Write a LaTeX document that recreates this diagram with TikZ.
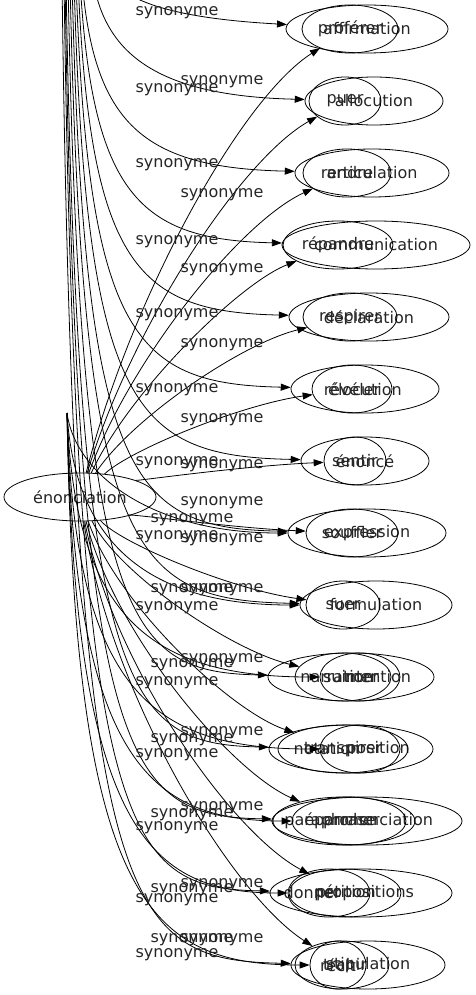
\documentclass[tikz,border=0pt]{standalone}
\usepackage{fontspec}
\setmainfont{DejaVu Sans}
\usetikzlibrary{shapes.geometric,arrows.meta}
\tikzset{
  ell/.style={draw, ellipse, inner sep=0pt, line width=0.8pt, minimum height=48pt},
  lab/.style={font=\fontsize{16}{19}\selectfont, text=black!85, inner sep=0pt},
  syn/.style={font=\fontsize{16}{19}\selectfont, text=black!85, inner sep=0pt},
  edge/.style={draw, line width=0.8pt, -{Triangle[length=10pt,width=7pt]}},
}
\begin{document}
\begin{tikzpicture}[x=1pt,y=-1pt]
\useasboundingbox (0,0) rectangle (476,995);
\clip (0,0) rectangle (476,995);
\fill[white] (0,0) rectangle (476,995);

% hub
\node[ell, minimum width=152pt, label={[lab]center:énonciation}] (en) at (80,497) {};
\coordinate (hc) at (67,413);

% row 1
\node[ell, minimum width=162pt, label={[lab]center:affirmation}] (b1) at (367,29) {};
\node[ell, minimum width=96pt, label={[lab]center:proférer}] (s1) at (350,29) {};
% row 2
\node[ell, minimum width=138pt, label={[lab]center:allocution}] (b2) at (374,101) {};
\node[ell, minimum width=72pt, label={[lab]center:puer}] (s2) at (345,101) {};
% row 3
\node[ell, minimum width=154pt, label={[lab]center:articulation}] (b3) at (372,173) {};
\node[ell, minimum width=88pt, label={[lab]center:rendre}] (s3) at (347,173) {};
% row 4
\node[ell, minimum width=188pt, label={[lab]center:communication}] (b4) at (376,245) {};
\node[ell, minimum width=110pt, label={[lab]center:répandre}] (s4) at (338,245) {};
% row 5
\node[ell, minimum width=160pt, label={[lab]center:déclaration}] (b5) at (369,317) {};
\node[ell, minimum width=94pt, label={[lab]center:respirer}] (s5) at (350,317) {};
% row 6
\node[ell, minimum width=148pt, label={[lab]center:élocution}] (b6) at (365,389) {};
\node[ell, minimum width=80pt, label={[lab]center:révéler}] (s6) at (352,389) {};
% row 7
\node[ell, minimum width=128pt, label={[lab]center:énoncé}] (b7) at (365,461) {};
\node[ell, minimum width=62pt, label={[lab]center:sentir}] (s7) at (355,461) {};
% row 8
\node[ell, minimum width=158pt, label={[lab]center:expression}] (b8) at (367,533) {};
\node[ell, minimum width=92pt, label={[lab]center:souffler}] (s8) at (352,533) {};
% row 9
\node[ell, minimum width=152pt, label={[lab]center:formulation}] (b9) at (376,605) {};
\node[ell, minimum width=74pt, label={[lab]center:suer}] (s9) at (343,605) {};
% row 10
\node[ell, minimum width=166pt, label={[lab,xshift=-14pt]center:narration}] (b10) at (351,677) {};
\node[ell, minimum width=96pt, label={[lab,xshift=8pt]center:suinter}] (m10) at (343,677) {};
\node[ell, minimum width=80pt, label={[lab,xshift=18pt]center:mention}] (s10) at (360,677) {};
% row 11
\node[ell, minimum width=164pt, label={[lab,xshift=27pt]center:position}] (b11) at (351,749) {};
\node[ell, minimum width=130pt, label={[lab]center:transpirer}] (m11) at (343,749) {};
\node[ell, minimum width=80pt, label={[lab,xshift=-33pt]center:notation}] (s11) at (360,749) {};
% row 12
\node[ell, minimum width=190pt, label={[lab,xshift=11pt]center:prononciation}] (b12) at (367,821) {};
\node[ell, minimum width=142pt, label={[lab,xshift=-14pt]center:paraphrase}] (m12) at (344,821) {};
\node[ell, minimum width=114pt, label={[lab,xshift=-7pt]center:épancher}] (s12) at (349,821) {};
% row 13
\node[ell, minimum width=182pt, label={[lab,xshift=4pt]center:propositions}] (b13) at (361,893) {};
\node[ell, minimum width=112pt, label={[lab]center:pétition}] (m13) at (345,893) {};
\node[ell, minimum width=82pt, label={[lab,xshift=-17pt]center:donner}] (s13) at (329,893) {};
% row 14
\node[ell, minimum width=154pt, label={[lab]center:stipulation}] (b14) at (368,965) {};
\node[ell, minimum width=94pt, label={[lab,xshift=3pt]center:trahir}] (m14) at (342,965) {};
\node[ell, minimum width=56pt, label={[lab]center:récit}] (s14) at (338,965) {};

% top-hub edges (free ends above the frame)
\coordinate (t1) at (100,-40);
\coordinate (t2) at (93,-20);
\coordinate (t3) at (82,-20);
\coordinate (t4) at (80,-20);
\coordinate (t5) at (78,-20);
\coordinate (t6) at (76,-20);
\coordinate (t7) at (74,-20);
\coordinate (t8) at (72,-20);
\coordinate (t9) at (70,-20);
\coordinate (t10) at (68,-20);
\coordinate (t11) at (66,-20);
\coordinate (t12) at (65,-20);
\coordinate (t13) at (64,-20);
\coordinate (t14) at (62,-20);
\draw[edge] (t1) .. controls (110,0) and (170,18) .. (b1);
\draw[edge] (t2) .. controls (105,51) and (153,96) .. (b2);
\draw[edge] (t3) .. controls (94,123) and (142,168) .. (b3);
\draw[edge] (t4) .. controls (92,195) and (140,240) .. (b4);
\draw[edge] (t5) .. controls (90,267) and (138,312) .. (b5);
\draw[edge] (t6) .. controls (88,339) and (136,384) .. (b6);
\draw[edge] (t7) .. controls (86,411) and (134,456) .. (b7);
\draw[edge] (t8) .. controls (84,483) and (132,528) .. (b8);
\draw[edge] (t9) .. controls (82,555) and (130,600) .. (b9);
\draw[edge] (t10) .. controls (80,627) and (128,672) .. (b10);
\draw[edge] (t11) .. controls (78,699) and (126,744) .. (b11);
\draw[edge] (t12) .. controls (77,771) and (125,816) .. (b12);
\draw[edge] (t13) .. controls (76,843) and (124,888) .. (b13);
\draw[edge] (t14) .. controls (74,915) and (122,960) .. (b14);

% énonciation edges (upward)
\draw[edge] (en) .. controls (130,300) and (240,99) .. (s1);
\draw[edge] (en) .. controls (130,330) and (240,160) .. (s2);
\draw[edge] (en) .. controls (130,360) and (240,222) .. (s3);
\draw[edge] (en) .. controls (130,390) and (240,283) .. (s4);
\draw[edge] (en) .. controls (130,420) and (240,344) .. (s5);
\draw[edge] (en) .. controls (130,450) and (240,405) .. (s6);
\draw[edge] (en) .. controls (130,482) and (240,466) .. (s7);
% énonciation edges (downward)
\draw[edge] (en) .. controls (120,512) and (230,528) .. (s8);
\draw[edge] (en) .. controls (120,543) and (230,589) .. (s9);
\draw[edge] (en) .. controls (118,573) and (230,650) .. (m10);
\draw[edge] (en) .. controls (116,603) and (230,711) .. (m11);
\draw[edge] (en) .. controls (114,633) and (230,771) .. (m12);
\draw[edge] (en) .. controls (112,663) and (230,832) .. (m13);
\draw[edge] (en) .. controls (110,693) and (230,893) .. (m14);

% edges from the point above énonciation
\draw[edge] (hc) .. controls (75,473) and (150,533) .. (b8);
\draw[edge] (hc) .. controls (75,545) and (150,605) .. (b9);
\draw[edge] (hc) .. controls (75,617) and (150,677) .. (s10);
\draw[edge] (hc) .. controls (75,689) and (150,749) .. (s11);
\draw[edge] (hc) .. controls (75,761) and (150,821) .. (s12);
\draw[edge] (hc) .. controls (75,833) and (150,893) .. (s13);
\draw[edge] (hc) .. controls (75,905) and (150,965) .. (s14);

% labels
\foreach \yy [count=\i] in {13,90,165,242,315,390,463,537,608,683,755,828,900,955}
  \node[syn] (la\i) at (177,\yy) {synonyme};
\foreach \yy [count=\i] in {82,195,270,345,420,466,503,540,590,660,733,808,885,940}
  \node[syn] (lb\i) at (222,\yy) {synonyme};
\foreach \yy [count=\i] in {520,590,665,740,815,890,940}
  \node[syn] (lc\i) at (192,\yy) {synonyme};
\end{tikzpicture}
\end{document}
